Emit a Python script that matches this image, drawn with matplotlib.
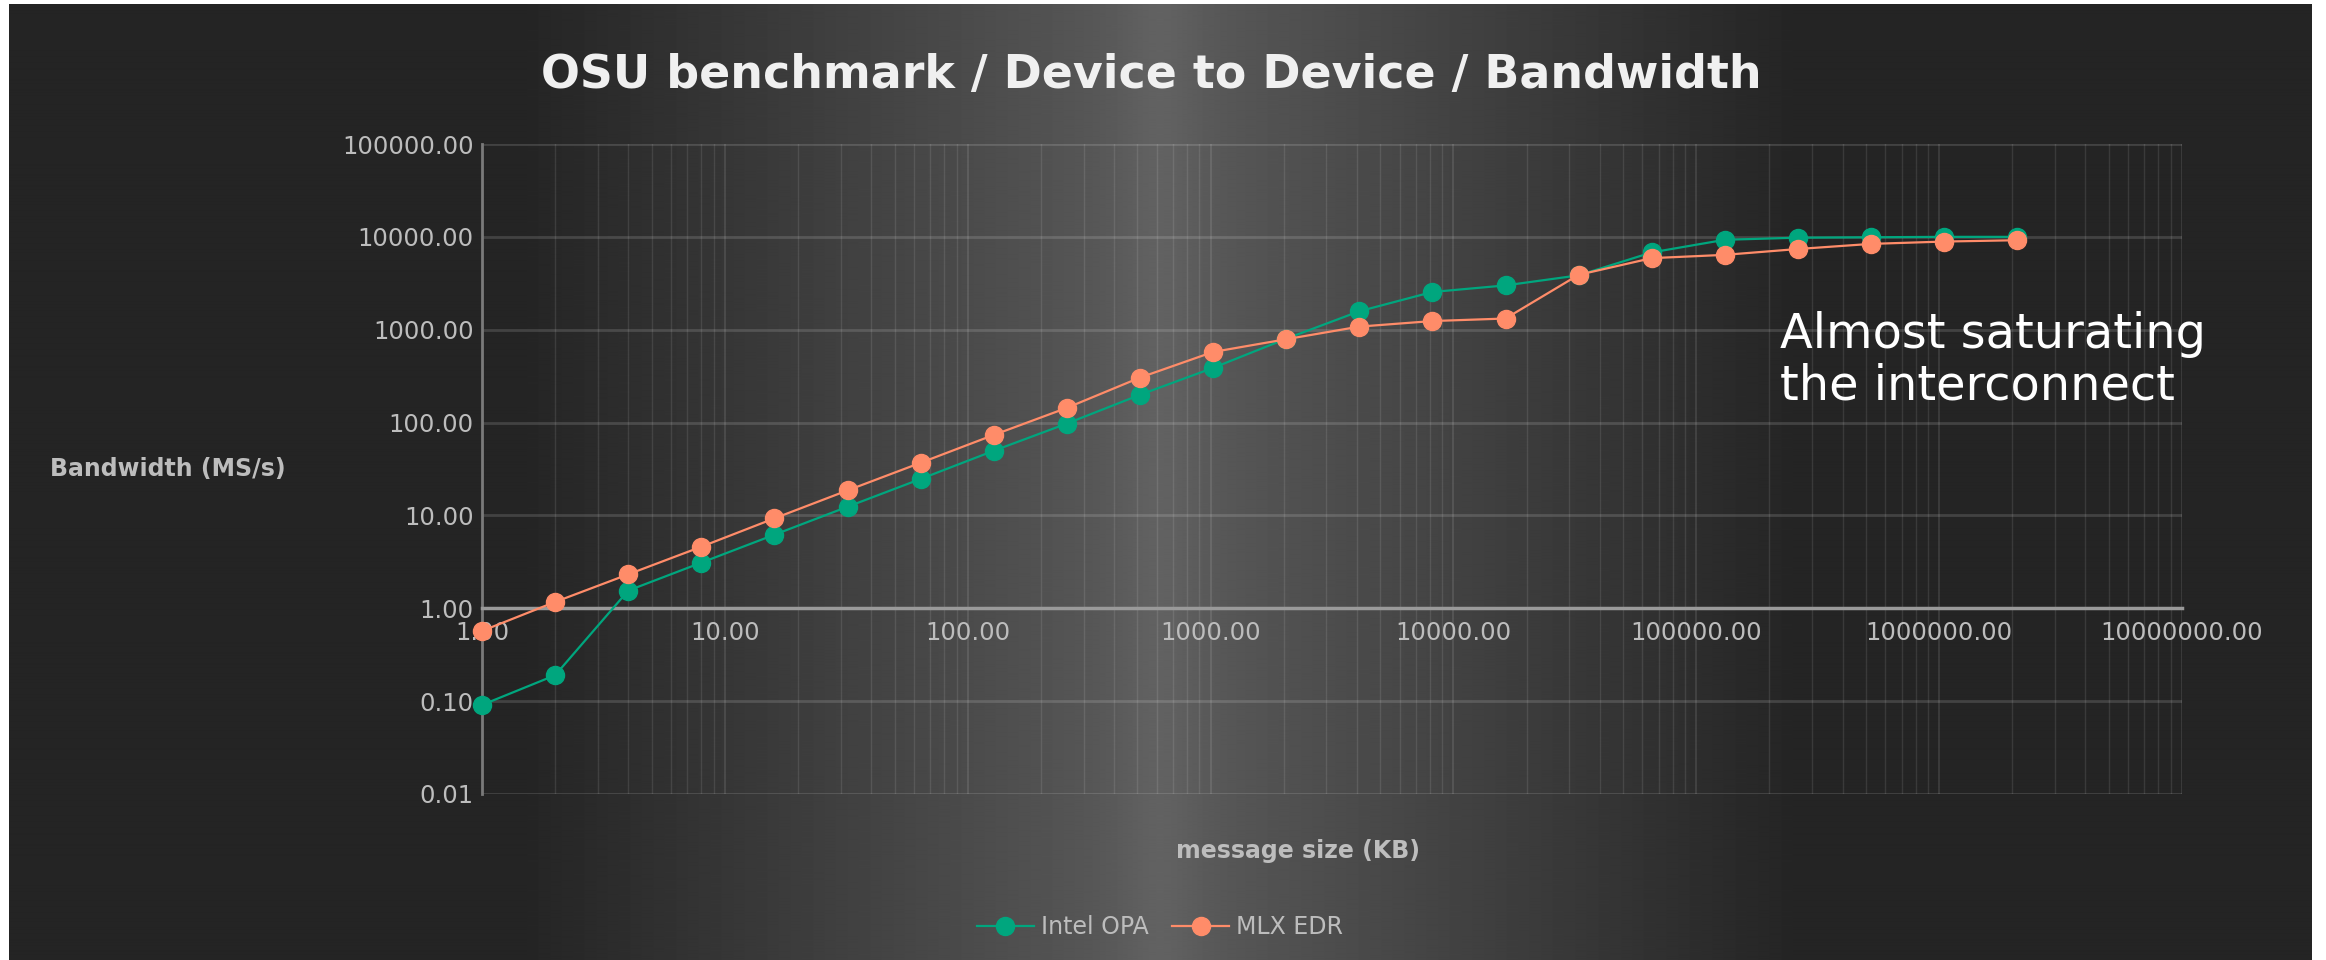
import numpy as np
import matplotlib
matplotlib.use("Agg")
import matplotlib.pyplot as plt
from matplotlib.ticker import FuncFormatter, LogLocator, NullFormatter

# message sizes (KB), powers of two
sizes = [2 ** k for k in range(22)]

# bandwidth (MS/s)
intel_opa = [0.091, 0.19, 1.55, 3.1, 6.2, 12.4, 24.7, 49.7, 97.6, 199, 388,
             800, 1580, 2550, 3000, 3850, 6800, 9300, 9800, 9900, 10000, 10000]
mlx_edr = [0.57, 1.17, 2.32, 4.6, 9.3, 18.6, 36.9, 73.6, 144, 305, 576,
           790, 1080, 1240, 1320, 3900, 5900, 6400, 7400, 8400, 8900, 9200]

series_names = ["Intel OPA", "MLX EDR"]
series_colors = ["#00a67e", "#ff8c69"]

title = "OSU benchmark / Device to Device / Bandwidth"
note = "Almost saturating\nthe interconnect"

W, H = 2326, 960
fig = plt.figure(figsize=(W / 100, H / 100), dpi=100, facecolor="white")

# dark backdrop with a soft light band in the middle
bg = fig.add_axes([9 / W, 0, (2312 - 9) / W, 1 - 4 / H], zorder=-10)
bg.set_axis_off()
xs = np.arange(9, 2312)
d = np.abs(xs - 1160) / 1.4834
b = 36 + np.clip(56 * (1 - d / 433), 0, None)
b = b + 6 * np.exp(-(d / 30) ** 2)
grad = np.tile(b / 255.0, (10, 1))
bg.imshow(grad, cmap="gray", vmin=0, vmax=1, aspect="auto",
          extent=[0, 1, 0, 1], interpolation="bilinear")
bg.set_xlim(0, 1)
bg.set_ylim(0, 1)

ax = fig.add_axes([482 / W, 1 - 794 / H, (2182 - 482) / W, (794 - 144) / H])
ax.set_facecolor("none")
ax.set_xscale("log")
ax.set_yscale("log")
ax.set_xlim(1, 1e7)
ax.set_ylim(0.01, 1e5)

fmt = FuncFormatter(lambda v, p: f"{v:.2f}")
ax.xaxis.set_major_locator(LogLocator(base=10, numticks=20))
ax.yaxis.set_major_locator(LogLocator(base=10, numticks=20))
ax.xaxis.set_minor_locator(LogLocator(base=10, subs=np.arange(2, 10), numticks=100))
ax.yaxis.set_minor_locator(LogLocator(base=10, subs=[], numticks=100))
ax.xaxis.set_major_formatter(fmt)
ax.yaxis.set_major_formatter(fmt)
ax.xaxis.set_minor_formatter(NullFormatter())

ax.grid(True, which="major", axis="y", color="white", alpha=0.14, lw=2)
ax.grid(True, which="major", axis="x", color="white", alpha=0.12, lw=1.2)
ax.grid(True, which="minor", axis="x", color="white", alpha=0.10, lw=1)

for s in ["top", "right"]:
    ax.spines[s].set_visible(False)
ax.spines["bottom"].set_position(("data", 1))
ax.spines["bottom"].set_color("#9a9a9a")
ax.spines["bottom"].set_linewidth(2.5)
ax.spines["left"].set_color("#7a7a7a")
ax.spines["left"].set_linewidth(2)

ax.tick_params(which="both", length=0, labelsize=17.5, labelcolor="#bdbdbd")
ax.tick_params(axis="x", pad=9)
ax.tick_params(axis="y", pad=6)

for vals, name, col in zip([intel_opa, mlx_edr], series_names, series_colors):
    ax.plot(sizes, vals, color=col, lw=1.6, marker="o", markersize=13,
            label=name, zorder=4, clip_on=False)

ax.text(1780 / W, 1 - 360 / H, note, transform=fig.transFigure,
        fontsize=34.5, color="white", ha="left", va="center",
        linespacing=1.12)

fig.text(1151 / W, 1 - 75 / H, title, ha="center", va="center",
         fontsize=33, fontweight="bold", color="#f0f0f0")
fig.text(168 / W, 1 - 469 / H, "Bandwidth (MS/s)", ha="center", va="center",
         fontsize=17, fontweight="bold", color="#bdbdbd")
fig.text(1298 / W, 1 - 851 / H, "message size (KB)", ha="center", va="center",
         fontsize=17, fontweight="bold", color="#bdbdbd")

fig.legend(loc="center", bbox_to_anchor=(1160 / W, 1 - 927 / H), ncol=2,
           frameon=False, fontsize=17, labelcolor="#bdbdbd",
           handlelength=2.4, handletextpad=0.3, columnspacing=1.0)

fig.savefig("out.png", dpi=100, facecolor=fig.get_facecolor())
